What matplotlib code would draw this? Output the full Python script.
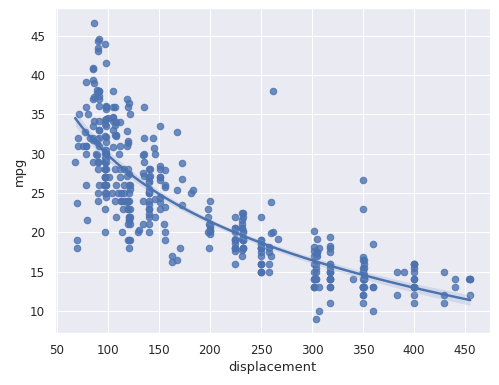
import numpy as np
import seaborn as sns
import matplotlib
matplotlib.use("Agg")
from matplotlib import pyplot as plt

# engine displacement (cubic inches) and fuel economy, one entry per car
displacement = [
    307, 350, 318, 304, 302, 429, 454, 440, 455, 390, 383, 340, 400, 455, 113, 198, 199, 200, 97, 97,
    110, 107, 104, 121, 199, 360, 307, 318, 304, 97, 140, 113, 98, 232, 225, 250, 250, 232, 350, 400,
    351, 318, 383, 400, 400, 258, 140, 250, 250, 122, 116, 79, 88, 71, 72, 97, 91, 113, 97.5, 97,
    140, 122, 350, 400, 318, 351, 304, 429, 350, 350, 400, 70, 304, 307, 302, 318, 121, 121, 120, 96,
    122, 97, 120, 98, 97, 350, 304, 350, 302, 318, 429, 400, 351, 318, 440, 455, 360, 225, 250, 232,
    250, 198, 97, 400, 400, 360, 350, 232, 97, 140, 108, 70, 122, 155, 98, 350, 400, 68, 116, 114,
    121, 318, 121, 156, 350, 198, 200, 232, 250, 79, 122, 71, 140, 250, 258, 225, 302, 350, 318, 302,
    304, 98, 79, 97, 76, 83, 90, 90, 116, 120, 108, 79, 225, 250, 250, 250, 400, 350, 318, 351,
    231, 250, 258, 225, 231, 262, 302, 97, 140, 232, 140, 134, 90, 119, 171, 90, 232, 115, 120, 121,
    121, 91, 107, 116, 140, 98, 101, 305, 318, 304, 351, 225, 250, 200, 232, 85, 98, 90, 91, 225,
    250, 250, 258, 97, 85, 97, 140, 130, 318, 120, 156, 168, 350, 350, 302, 318, 98, 111, 79, 122,
    85, 305, 260, 318, 302, 250, 231, 225, 250, 400, 350, 400, 351, 97, 151, 97, 140, 98, 98, 97,
    97, 146, 121, 80, 90, 98, 78, 85, 91, 260, 318, 302, 231, 200, 200, 140, 225, 232, 231, 200,
    225, 258, 305, 231, 302, 318, 98, 134, 119, 105, 134, 156, 151, 119, 131, 163, 121, 163, 89, 98,
    231, 200, 140, 232, 225, 305, 302, 351, 318, 350, 351, 267, 360, 89, 86, 98, 121, 183, 350, 141,
    260, 105, 105, 85, 91, 151, 173, 173, 151, 98, 89, 98, 86, 151, 140, 151, 225, 97, 134, 120,
    119, 108, 86, 156, 85, 90, 90, 121, 146, 91, 85, 97, 89, 168, 70, 122, 140, 107, 135, 151,
    156, 173, 135, 79, 86, 81, 97, 85, 89, 91, 105, 98, 98, 105, 100, 107, 108, 119, 120, 141,
    145, 168, 146, 231, 350, 200, 225, 112, 112, 112, 112, 135, 151, 140, 151, 105, 91, 91, 105, 98,
    120, 107, 108, 91, 91, 91, 181, 262, 156, 232, 144, 135, 151, 140, 97, 135, 120, 119,
]
mpg = [
    18, 15, 18, 16, 17, 15, 14, 14, 14, 15, 15, 14, 15, 14, 24, 22, 18, 21, 27, 26,
    25, 24, 25, 26, 21, 10, 10, 11, 9, 27, 28, 25, 25, 19, 16, 17, 19, 18, 14, 14,
    14, 14, 12, 13, 13, 18, 22, 19, 18, 23, 28, 30, 30, 31, 35, 27, 26, 24, 25, 23,
    20, 21, 13, 14, 15, 14, 17, 11, 13, 12, 13, 19, 15, 13, 13, 14, 18, 22, 21, 26,
    22, 28, 23, 28, 27, 13, 14, 13, 14, 15, 12, 13, 13, 14, 13, 12, 13, 18, 16, 18,
    18, 23, 26, 11, 12, 13, 12, 18, 20, 21, 22, 18, 19, 21, 26, 15, 16, 29, 24, 20,
    19, 15, 24, 20, 11, 20, 21, 19, 15, 31, 26, 32, 25, 16, 16, 18, 16, 13, 14, 14,
    14, 29, 26, 26, 31, 32, 28, 24, 26, 24, 26, 31, 19, 18, 15, 15, 16, 15, 16, 14,
    17, 16, 15, 18, 21, 20, 13, 29, 23, 20, 23, 24, 25, 24, 18, 29, 19, 23, 23, 22,
    25, 33, 28, 25, 25, 26, 27, 17.5, 16, 15.5, 14.5, 22, 22, 24, 22.5, 29, 24.5, 29, 33, 20,
    18, 18.5, 17.5, 29.5, 32, 28, 26.5, 20, 13, 19, 19, 16.5, 16.5, 13, 13, 13, 31.5, 30, 36, 25.5,
    33.5, 17.5, 17, 15.5, 15, 17.5, 20.5, 19, 18.5, 16, 15.5, 15.5, 16, 29, 24.5, 26, 25.5, 30.5, 33.5, 30,
    30.5, 22, 21.5, 21.5, 43.1, 36.1, 32.8, 39.4, 36.1, 19.9, 19.4, 20.2, 19.2, 20.5, 20.2, 25.1, 20.5, 19.4, 20.6, 20.8,
    18.6, 18.1, 19.2, 17.7, 18.1, 17.5, 30, 27.5, 27.2, 30.9, 21.1, 23.2, 23.8, 23.9, 20.3, 17, 21.6, 16.2, 31.5, 29.5,
    21.5, 19.8, 22.3, 20.2, 20.6, 17, 17.6, 16.5, 18.2, 16.9, 15.5, 19.2, 18.5, 31.9, 34.1, 35.7, 27.4, 25.4, 23, 27.2,
    23.9, 34.2, 34.5, 31.8, 37.3, 28.4, 28.8, 26.8, 33.5, 41.5, 38.1, 32.1, 37.2, 28, 26.4, 24.3, 19.1, 34.3, 29.8, 31.3,
    37, 32.2, 46.6, 27.9, 40.8, 44.3, 43.4, 36.4, 30, 44.6, 40.9, 33.8, 29.8, 32.7, 23.7, 35, 23.6, 32.4, 27.2, 26.6,
    25.8, 23.5, 30, 39.1, 39, 35.1, 32.3, 37, 37.7, 34.1, 34.7, 34.4, 29.9, 33, 34.5, 33.7, 32.4, 32.9, 31.6, 28.1,
    30.7, 25.4, 24.2, 22.4, 26.6, 20.2, 17.6, 28, 27, 34, 31, 29, 27, 24, 23, 36, 37, 31, 38, 36,
    36, 36, 34, 38, 32, 38, 25, 38, 26, 22, 32, 36, 27, 27, 44, 32, 28, 31,
]

sns.set_theme()
fig, ax = plt.subplots(figsize=(499 / 78, 385 / 78), dpi=78)
# log-x fit: curve keeps falling all the way to the largest engines
sns.regplot(x=np.array(displacement), y=np.array(mpg), logx=True, ax=ax, seed=0)
ax.set_xlabel("displacement")
ax.set_ylabel("mpg")
fig.subplots_adjust(left=0.111, right=0.982, bottom=0.134, top=0.978)
fig.savefig("out.png")
